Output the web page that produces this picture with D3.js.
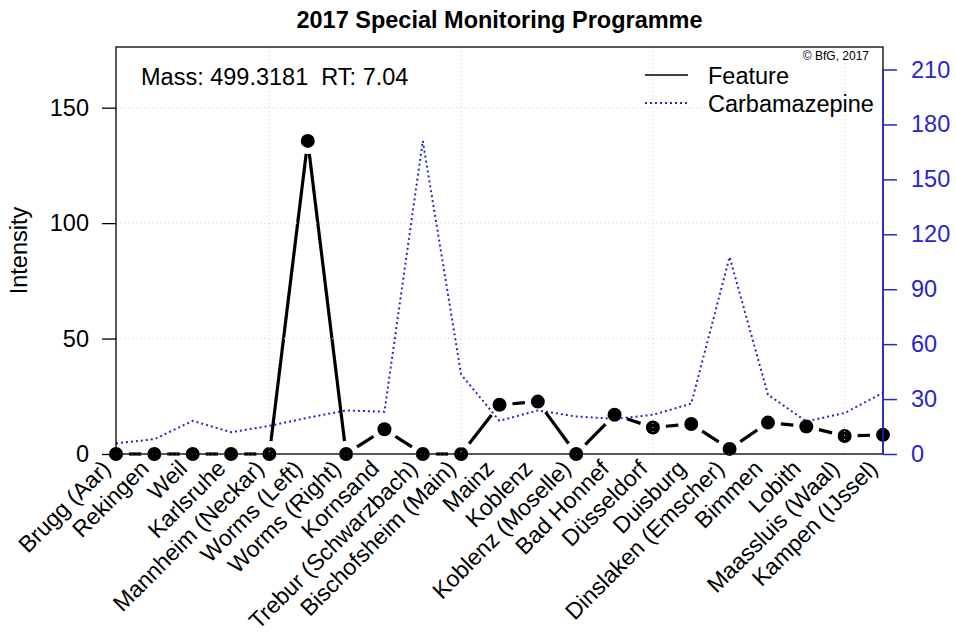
<!DOCTYPE html>
<html>
<head>
<meta charset="utf-8">
<script src="https://cdn.jsdelivr.net/npm/d3@7/dist/d3.min.js"></script>
<style>
  body { margin: 0; background: #fff; }
  text { font-family: "Liberation Sans", Arial, Helvetica, sans-serif; }
</style>
</head>
<body>
<svg id="chart" width="956" height="634"></svg>
<script>
// Sampling sites along the Rhine, upstream to downstream
const sites = [
  "Brugg (Aar)", "Rekingen", "Weil", "Karlsruhe", "Mannheim (Neckar)",
  "Worms (Left)", "Worms (Right)", "Kornsand", "Trebur (Schwarzbach)",
  "Bischofsheim (Main)", "Mainz", "Koblenz", "Koblenz (Moselle)",
  "Bad Honnef", "Düsseldorf", "Duisburg", "Dinslaken (Emscher)",
  "Bimmen", "Lobith", "Maassluis (Waal)", "Kampen (IJssel)"
];

// Intensity of the unknown feature (left axis)
const featureIntensity = [
  0, 0, 0, 0, 0, 135.6, 0, 10.7, 0, 0, 21.3, 22.7, 0,
  17.0, 11.5, 13.0, 2.2, 13.6, 11.9, 7.8, 8.3
];

// Carbamazepine reference intensity (right axis)
const carbamazepine = [
  5.8, 8.1, 18.1, 11.9, 15.4, 19.8, 23.8, 23.1, 171.0, 43.4, 18.1,
  23.8, 20.5, 19.2, 21.4, 27.5, 107.6, 32.4, 17.8, 22.4, 33.4
];

const leftTicks = [0, 50, 100, 150];
const rightTicks = [0, 30, 60, 90, 120, 150, 180, 210];
const gridSites = ["Mannheim (Neckar)", "Bischofsheim (Main)", "Düsseldorf", "Maassluis (Waal)"];

const titleText = "2017 Special Monitoring Programme";
const infoText = "Mass: 499.3181  RT: 7.04";
const legendLabels = ["Feature", "Carbamazepine"];
const creditText = "© BfG, 2017";
const yLabel = "Intensity";

const plot = { left: 116, right: 883, top: 47, bottom: 454 };
const blue = "#2626cc";
const fs = 23.5;

const svg = d3.select("#chart");

const x = d3.scalePoint().domain(sites).range([plot.left, plot.right]).padding(0);
const yL = d3.scaleLinear().domain([0, d3.max(featureIntensity) * 1.3]).range([plot.bottom, plot.top]);
const yR = d3.scaleLinear().domain([0, d3.max(carbamazepine) * 1.3]).range([plot.bottom, plot.top]);

// Title
svg.append("text")
  .attr("x", (plot.left + plot.right) / 2).attr("y", 28)
  .attr("text-anchor", "middle")
  .attr("font-weight", "bold").attr("font-size", fs)
  .text(titleText);

// Carbamazepine: dotted blue polyline
svg.append("path")
  .datum(carbamazepine)
  .attr("fill", "none")
  .attr("stroke", blue)
  .attr("stroke-width", 2)
  .attr("stroke-dasharray", "2,3")
  .attr("d", d3.line().x((d, i) => x(sites[i])).y(d => yR(d)));

// Feature: points joined by segments that stop short of each point
const gap = 13;
const fpts = featureIntensity.map((v, i) => [x(sites[i]), yL(v)]);
const segs = [];
for (let i = 0; i < fpts.length - 1; i++) {
  const [x0, y0] = fpts[i], [x1, y1] = fpts[i + 1];
  const dx = x1 - x0, dy = y1 - y0, len = Math.hypot(dx, dy);
  if (len > 2 * gap) {
    const ux = dx / len, uy = dy / len;
    segs.push([x0 + ux * gap, y0 + uy * gap, x1 - ux * gap, y1 - uy * gap]);
  }
}
svg.append("g").selectAll("line").data(segs).join("line")
  .attr("x1", d => d[0]).attr("y1", d => d[1])
  .attr("x2", d => d[2]).attr("y2", d => d[3])
  .attr("stroke", "#000").attr("stroke-width", 3.2);

svg.append("g").selectAll("circle").data(featureIntensity).join("circle")
  .attr("cx", (d, i) => x(sites[i]))
  .attr("cy", d => yL(d))
  .attr("r", 7)
  .attr("fill", "#000");

// Grid (drawn over the marks)
const grid = svg.append("g")
  .attr("stroke", "#d3d3d3").attr("stroke-width", 1)
  .attr("stroke-dasharray", "1,3");
grid.selectAll("line.v").data(gridSites).join("line").attr("class", "v")
  .attr("x1", d => x(d)).attr("x2", d => x(d))
  .attr("y1", plot.top).attr("y2", plot.bottom);
grid.selectAll("line.h").data(leftTicks).join("line").attr("class", "h")
  .attr("x1", plot.left).attr("x2", plot.right)
  .attr("y1", d => yL(d)).attr("y2", d => yL(d));

// Plot frame
svg.append("rect")
  .attr("x", plot.left).attr("y", plot.top)
  .attr("width", plot.right - plot.left).attr("height", plot.bottom - plot.top)
  .attr("fill", "none").attr("stroke", "#000").attr("stroke-width", 1.3);

// Left axis
const axL = svg.append("g")
  .attr("transform", `translate(${plot.left},0)`)
  .call(d3.axisLeft(yL).tickValues(leftTicks).tickSize(14).tickPadding(13));
axL.select(".domain").remove();
axL.selectAll(".tick line").attr("stroke", "#000").attr("stroke-width", 1.3);
axL.selectAll(".tick text").attr("font-size", fs).attr("fill", "#000")
  .attr("font-family", "Liberation Sans, Arial, sans-serif");

// Right axis
const axR = svg.append("g")
  .attr("transform", `translate(${plot.right},0)`)
  .call(d3.axisRight(yR).tickValues(rightTicks).tickSize(14).tickPadding(14));
axR.select(".domain").remove();
axR.append("line")
  .attr("x1", 0).attr("x2", 0)
  .attr("y1", yR(rightTicks[0])).attr("y2", yR(rightTicks[rightTicks.length - 1]))
  .attr("stroke", blue).attr("stroke-width", 1.5);
axR.selectAll(".tick line").attr("stroke", blue).attr("stroke-width", 1.5);
axR.selectAll(".tick text").attr("font-size", fs).attr("fill", blue)
  .attr("font-family", "Liberation Sans, Arial, sans-serif");

// Y label
svg.append("text")
  .attr("transform", `translate(27,${(plot.top + plot.bottom) / 2}) rotate(-90)`)
  .attr("text-anchor", "middle")
  .attr("font-size", fs)
  .text(yLabel);

// Rotated site labels
svg.append("g").selectAll("text").data(sites).join("text")
  .attr("transform", d => `translate(${x(d) - 4},470) rotate(-45)`)
  .attr("text-anchor", "end")
  .attr("font-size", 23)
  .text(d => d);

// Mass / retention time annotation
svg.append("text")
  .attr("x", 141).attr("y", 85)
  .attr("font-size", fs)
  .style("white-space", "pre")
  .text(infoText);

// Credit
svg.append("text")
  .attr("x", 869).attr("y", 60)
  .attr("text-anchor", "end")
  .attr("font-size", 12)
  .text(creditText);

// Legend
const legend = svg.append("g");
const legendStyles = [
  { stroke: "#000", width: 1.5, dash: null, y: 75 },
  { stroke: blue, width: 2, dash: "2,3", y: 103 }
];
legend.selectAll("line").data(legendStyles).join("line")
  .attr("x1", 645).attr("x2", 688)
  .attr("y1", d => d.y).attr("y2", d => d.y)
  .attr("stroke", d => d.stroke).attr("stroke-width", d => d.width)
  .attr("stroke-dasharray", d => d.dash);
legend.selectAll("text").data(legendLabels).join("text")
  .attr("x", 708)
  .attr("y", (d, i) => legendStyles[i].y + 9)
  .attr("font-size", fs)
  .text(d => d);
</script>
</body>
</html>
